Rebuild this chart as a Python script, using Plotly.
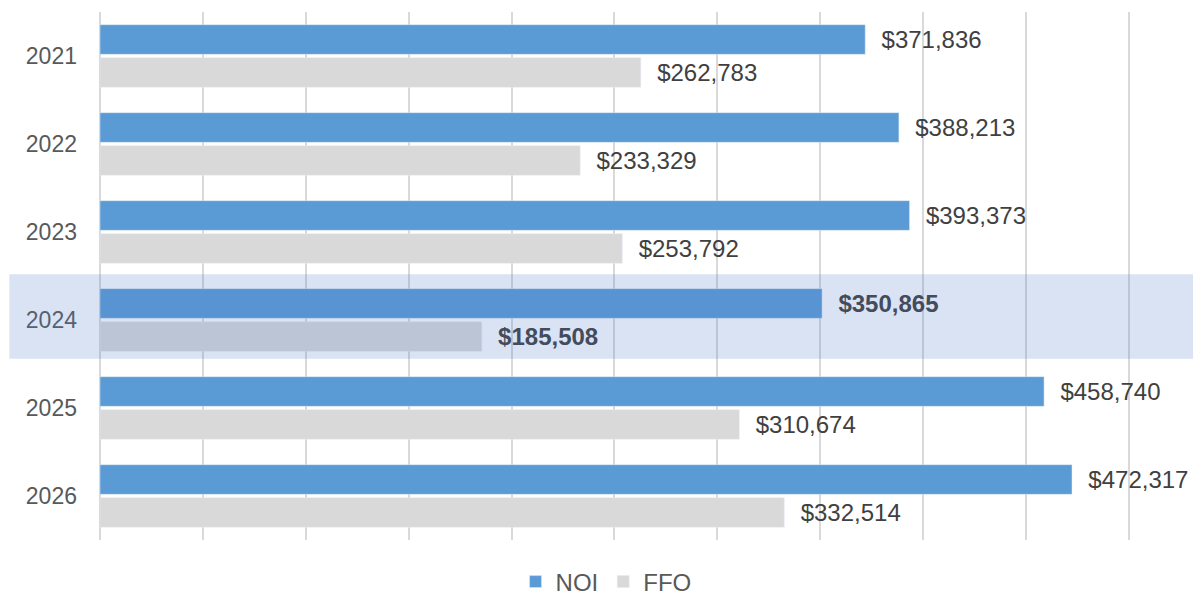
import plotly.graph_objects as go

years = ["2021", "2022", "2023", "2024", "2025", "2026"]
noi = [371836, 388213, 393373, 350865, 458740, 472317]
ffo = [262783, 233329, 253792, 185508, 310674, 332514]
highlight_year = "2024"

NOI_COLOR = "#5B9BD5"
FFO_COLOR = "#D9D9D9"
FONT = "Liberation Sans, Arial, sans-serif"


def labels(vals):
    out = []
    for y, v in zip(years, vals):
        s = f"${v:,}"
        if y == highlight_year:
            s = f"<b>{s}</b>"
        out.append("\u00a0\u00a0" + s)
    return out


fig = go.Figure()
fig.add_trace(go.Bar(
    y=years, x=noi, name="NOI", orientation="h",
    marker=dict(color=NOI_COLOR),
    text=labels(noi), textposition="outside", cliponaxis=False,
    textfont=dict(size=24, color="#404040", family=FONT),
))
fig.add_trace(go.Bar(
    y=years, x=ffo, name="FFO", orientation="h",
    marker=dict(color=FFO_COLOR),
    text=labels(ffo), textposition="outside", cliponaxis=False,
    textfont=dict(size=24, color="#404040", family=FONT),
))

hi = years.index(highlight_year)
fig.add_shape(
    type="rect", layer="above", xref="paper", yref="y",
    x0=-0.088, x1=1.07, y0=hi - 0.52, y1=hi + 0.44,
    fillcolor="rgba(79,122,198,0.21)", line=dict(width=0),
)

fig.update_layout(
    width=1193, height=600,
    margin=dict(l=100, r=63, t=12, b=60, autoexpand=False),
    paper_bgcolor="white", plot_bgcolor="white",
    barmode="group", bargap=0.25, bargroupgap=0.1,
    font=dict(family=FONT, size=23, color="#595959"),
    showlegend=True,
    legend=dict(orientation="h", x=0.508, xanchor="center", xref="container",
                y=0.03, yanchor="middle", yref="container",
                font=dict(size=24, color="#595959"), traceorder="normal",
                itemwidth=30, tracegroupgap=0),
)
fig.update_xaxes(range=[0, 500500], dtick=50000, tick0=0, showticklabels=False,
                 showgrid=True, gridcolor="#D9D9D9", gridwidth=2,
                 zeroline=True, zerolinecolor="#D9D9D9", zerolinewidth=2,
                 showline=False, fixedrange=True)
fig.update_yaxes(type="category", categoryorder="array", categoryarray=years,
                 autorange="reversed", showgrid=False, zeroline=False, showline=False,
                 ticks="", ticklabelstandoff=22,
                 tickfont=dict(size=23, color="#595959", family=FONT))

fig.write_html("out.html")
